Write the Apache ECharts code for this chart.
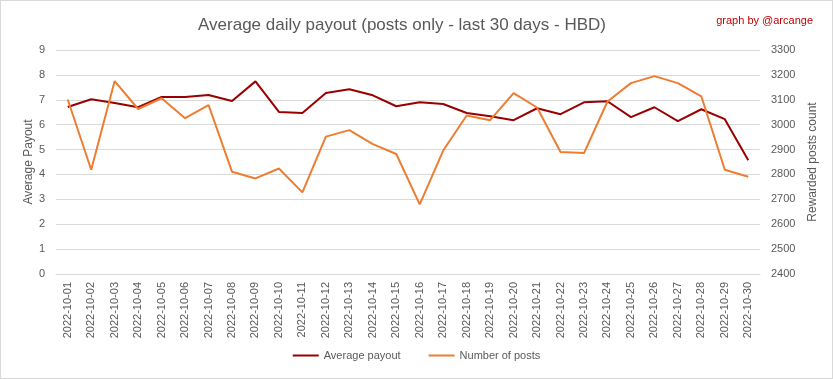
<!DOCTYPE html>
<html>
<head>
<meta charset="utf-8">
<script src="https://cdn.jsdelivr.net/npm/echarts@6/dist/echarts.min.js"></script>
<style>
html,body{margin:0;padding:0;background:#fff;}
#c{width:833px;height:379px;box-sizing:border-box;border:1px solid #d9d9d9;}
</style>
</head>
<body>
<div id="c"></div>
<script>
const categories = ["2022-10-01","2022-10-02","2022-10-03","2022-10-04","2022-10-05","2022-10-06","2022-10-07","2022-10-08","2022-10-09","2022-10-10","2022-10-11","2022-10-12","2022-10-13","2022-10-14","2022-10-15","2022-10-16","2022-10-17","2022-10-18","2022-10-19","2022-10-20","2022-10-21","2022-10-22","2022-10-23","2022-10-24","2022-10-25","2022-10-26","2022-10-27","2022-10-28","2022-10-29","2022-10-30"];
const averagePayout = [6.71,7.02,6.87,6.70,7.11,7.11,7.19,6.95,7.74,6.51,6.47,7.27,7.42,7.18,6.74,6.90,6.83,6.47,6.34,6.18,6.66,6.42,6.90,6.94,6.30,6.70,6.14,6.62,6.22,4.57];
const numberOfPosts = [3101,2819,3175,3063,3106,3026,3079,2811,2784,2824,2728,2952,2978,2922,2882,2680,2896,3037,3018,3127,3069,2890,2886,3093,3167,3195,3167,3114,2819,2791];

const FONT = "'Liberation Sans', 'DejaVu Sans', sans-serif";
const chart = echarts.init(document.getElementById('c'), null, {renderer:'canvas'});
chart.setOption({
  animation:false,
  backgroundColor:'#ffffff',
  textStyle:{fontFamily:FONT},
  title:[{
    text:'Average daily payout (posts only - last 30 days - HBD)',
    left:396, top:11, textAlign:'center',
    textStyle:{fontFamily:FONT,fontSize:17,fontWeight:'normal',color:'#595959'}
  },{
    text:'graph by @arcange',
    right:14, top:9,
    textStyle:{fontFamily:FONT,fontSize:11,fontWeight:'normal',color:'#c00000'}
  }],
  legend:{
    bottom:12, left:'center', itemGap:28, itemWidth:26, itemHeight:2,
    textStyle:{fontFamily:FONT,fontSize:11,color:'#595959'},
    data:[{name:'Average payout',icon:'rect'},{name:'Number of posts',icon:'rect'}]
  },
  grid:{left:55,right:72,top:49,bottom:104},
  xAxis:{
    type:'category', data:categories, boundaryGap:true,
    axisLine:{show:true,lineStyle:{color:'#d9d9d9'}},
    axisTick:{show:false},
    axisLabel:{rotate:90,interval:0,fontSize:11,color:'#595959',margin:8,fontFamily:FONT}
  },
  yAxis:[{
    type:'value', min:0, max:9, interval:1,
    name:'Average Payout', nameLocation:'middle', nameGap:21, nameRotate:90, nameMoveOverlap:false,
    nameTextStyle:{fontSize:12,color:'#595959',fontFamily:FONT},
    axisLabel:{fontSize:11,color:'#595959',margin:11,fontFamily:FONT},
    splitLine:{lineStyle:{color:'#d9d9d9'}},
    axisLine:{show:false}, axisTick:{show:false}
  },{
    type:'value', min:2400, max:3300, interval:100, position:'right',
    name:'Rewarded posts count', nameLocation:'middle', nameGap:47, nameRotate:90, nameMoveOverlap:false,
    nameTextStyle:{fontSize:12,color:'#595959',fontFamily:FONT},
    axisLabel:{fontSize:11,color:'#595959',margin:11,fontFamily:FONT,formatter:function(v){return String(v);}},
    splitLine:{show:false},
    axisLine:{show:false}, axisTick:{show:false}
  }],
  series:[{
    name:'Average payout', type:'line', yAxisIndex:0, data:averagePayout,
    symbol:'none', color:'#990000', lineStyle:{width:2,color:'#990000'}
  },{
    name:'Number of posts', type:'line', yAxisIndex:1, data:numberOfPosts,
    symbol:'none', color:'#ed7d31', lineStyle:{width:2,color:'#ed7d31'}
  }]
});
</script>
</body>
</html>
